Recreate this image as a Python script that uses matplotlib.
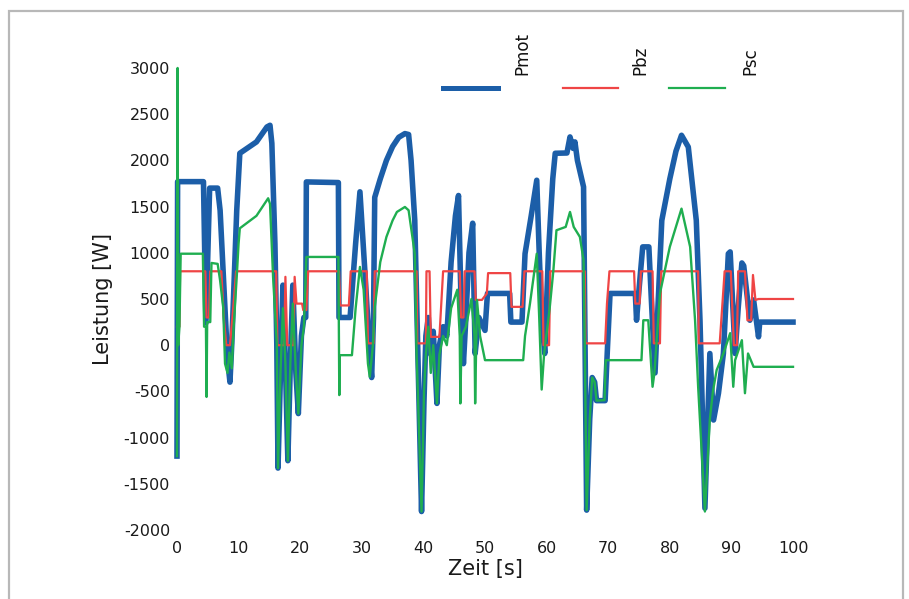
import matplotlib
matplotlib.use("Agg")
import matplotlib.pyplot as plt
from matplotlib.patches import Rectangle

# Pmot (Motorleistung)
zeit_mot = [0.0, 0.1, 4.3, 4.7, 5.3, 6.6, 7.0, 7.8, 8.2, 8.6, 8.9, 9.7, 10.2, 12.9, 14.6, 15.1,
            15.4, 15.9, 16.2, 16.4, 16.8, 17.2, 17.6, 18.0, 18.4, 18.8, 19.3, 19.7, 20.2, 20.6,
            20.9, 21.0, 26.2, 26.3, 28.1, 29.0, 29.7, 30.5, 31.3, 31.6, 31.9, 32.1, 33.0, 34.0,
            35.0, 36.0, 37.0, 37.6, 38.0, 38.6, 39.1, 39.7, 40.1, 40.4, 40.8, 41.2, 41.6, 42.2,
            42.6, 43.2, 43.8, 44.5, 45.2, 45.7, 46.1, 46.5, 46.9, 47.4, 48.0, 48.4, 49.0, 50.0,
            50.4, 54.0, 54.2, 56.0, 56.5, 57.5, 58.4, 58.8, 59.2, 59.7, 60.3, 61.0, 61.4, 63.3,
            63.8, 64.3, 64.6, 65.0, 66.0, 66.2, 66.5, 67.0, 67.4, 67.8, 68.1, 69.5, 69.9, 70.3,
            74.4, 74.6, 75.0, 75.6, 76.6, 77.0, 77.6, 78.0, 78.7, 80.0, 81.0, 81.9, 83.0, 84.3,
            84.9, 85.7, 86.5, 87.1, 87.9, 88.7, 89.5, 89.8, 90.6, 91.1, 91.7, 92.0, 93.0, 93.6,
            94.4, 94.6, 100.0]
p_mot = [-1200, 1770, 1770, 240, 1700, 1700, 1460, 380, -150, -400, 20, 1460, 2077, 2200, 2362, 2380,
         2185, 1100, 20, -1330, -300, 650, -200, -1250, -200, 650, -300, -740, 100, 300,
         300, 1767, 1760, 300, 300, 1100, 1660, 800, -100, -350, 300, 1600, 1800, 2000,
         2150, 2250, 2290, 2280, 2000, 1350, -90, -1800, -600, 100, 300, -100, 150, -630,
         0, 200, 100, 900, 1400, 1620, 500, -200, 300, 1000, 1320, -90, 300, 160,
         560, 560, 250, 250, 990, 1400, 1785, 1000, 300, -90, 1000, 1800, 2077, 2080,
         2254, 2130, 2200, 2000, 1713, 270, -1785, -800, -350, -400, -600, -600, 0, 560,
         560, 270, 600, 1064, 1064, 500, -300, 300, 1350, 1800, 2100, 2272, 2145, 1350,
         270, -1764, -90, -810, -520, -90, 990, 1010, -90, 400, 890, 860, 270, 490,
         90, 250, 250]

# Pbz (Brennstoffzelle)
zeit_bz = [0.0, 0.4, 0.5, 4.6, 4.8, 5.2, 5.4, 7.2, 7.6, 8.0, 8.6, 9.0, 9.6, 16.1, 16.3, 17.4,
           17.6, 17.9, 18.9, 19.1, 19.4, 20.3, 20.5, 21.0, 21.3, 26.3, 26.5, 27.9, 28.2, 30.8,
           31.0, 31.9, 32.1, 38.9, 39.0, 40.4, 40.5, 41.0, 41.2, 42.6, 43.2, 45.9, 46.1, 46.5,
           46.7, 48.3, 48.5, 49.5, 50.3, 50.5, 54.1, 54.3, 56.1, 56.4, 59.3, 59.5, 60.4, 60.6,
           66.2, 66.3, 69.5, 69.8, 70.2, 74.2, 74.4, 75.1, 75.3, 77.2, 77.4, 78.4, 78.6, 84.6,
           84.7, 88.1, 88.9, 89.9, 90.4, 90.9, 91.1, 92.2, 92.6, 93.2, 93.5, 93.9, 94.4, 100.0]
p_bz = [200, 200, 800, 800, 300, 300, 800, 800, 300, 0, 0, 300, 800, 800, 0, 0,
        740, 0, 0, 740, 450, 450, 380, 380, 800, 800, 430, 430, 800, 800,
        20, 20, 800, 800, 20, 20, 800, 800, 90, 90, 800, 800, 300, 300,
        800, 800, 490, 490, 560, 780, 780, 415, 415, 800, 800, 0, 0, 800,
        800, 20, 20, 450, 800, 800, 450, 450, 800, 800, 20, 20, 800, 800,
        20, 20, 800, 800, 0, 0, 800, 800, 270, 270, 760, 490, 500, 500]

# Psc (Superkondensator)
zeit_sc = [0.0, 0.1, 0.2, 0.4, 0.6, 4.2, 4.4, 4.7, 4.8, 4.9, 5.4, 5.6, 6.6, 7.0, 7.5, 7.8,
           8.2, 8.5, 8.9, 9.2, 9.7, 10.0, 10.2, 12.9, 14.8, 15.1, 15.6, 16.2, 16.4, 16.8,
           17.2, 17.6, 18.0, 18.4, 18.8, 19.3, 19.7, 20.2, 20.6, 21.0, 26.2, 26.3, 26.35,
           26.4, 28.4, 29.0, 29.7, 30.3, 31.0, 31.3, 31.8, 32.1, 33.0, 34.0, 35.0, 35.7,
           37.0, 37.6, 38.6, 38.9, 39.7, 40.1, 40.4, 40.8, 41.2, 41.6, 42.2, 42.6, 43.2,
           43.8, 44.5, 45.5, 45.9, 46.0, 46.2, 46.9, 47.8, 48.3, 48.4, 48.7, 49.2, 50.0,
           56.2, 56.5, 57.3, 58.4, 58.8, 59.2, 59.6, 60.5, 61.1, 61.6, 63.1, 63.8, 64.4,
           65.4, 66.0, 66.2, 66.5, 67.0, 67.4, 67.8, 68.1, 69.4, 69.6, 75.4, 75.7, 76.5,
           77.2, 77.5, 78.4, 80.0, 81.9, 83.3, 84.1, 84.6, 85.7, 86.5, 87.0, 87.6, 88.7,
           89.8, 90.3, 90.6, 91.7, 92.2, 92.7, 93.6, 100.0]
p_sc = [-1200, 3000, 0, 200, 990, 990, 200, 200, -560, 250, 250, 890, 880, 700, 410, -200,
        -300, -80, -250, 200, 740, 1100, 1265, 1400, 1590, 1530, 740, 20, -1330, -300,
        400, -200, -1250, -200, 450, -300, -740, 0, 200, 955, 955, -108, -540,
        -108, -108, 400, 847, 600, -200, -343, 0, 411, 900, 1172, 1350, 1442,
        1496, 1460, 990, -90, -1800, -500, -100, 200, -300, 0, -630, -100, 100,
        0, 400, 600, 100, -630, 100, 200, 500, 100, -630, 490, 100, -162,
        -162, 100, 450, 990, 300, -480, -90, 400, 810, 1244, 1280, 1442, 1280,
        1172, 920, 0, -1785, -800, -350, -400, -600, -595, -162, -162, 270, 270,
        -450, -300, 560, 1064, 1478, 1064, 270, -450, -1800, -800, -500, -270, -90,
        130, -450, -162, 54, -520, -90, -234, -234]

x_ticks = [0, 10, 20, 30, 40, 50, 60, 70, 80, 90, 100]
y_ticks = [-2000, -1500, -1000, -500, 0, 500, 1000, 1500, 2000, 2500, 3000]

blau = "#1c5ea8"
rot = "#ef4545"
gruen = "#1fae50"

plt.rcParams["axes.unicode_minus"] = False

fig = plt.figure(figsize=(9.09, 5.99), dpi=100)
ax = fig.add_axes([0.1947, 0.1152, 0.6777, 0.7713])

ax.plot(zeit_mot, p_mot, color=blau, lw=4, clip_on=False, zorder=2)
ax.plot(zeit_bz, p_bz, color=rot, lw=1.6, clip_on=False, zorder=3)
ax.plot(zeit_sc, p_sc, color=gruen, lw=1.7, clip_on=False, zorder=4)

ax.set_xlim(0, 100)
ax.set_ylim(-2000, 3000)
ax.set_xticks(x_ticks)
ax.set_yticks(y_ticks)
ax.tick_params(length=0, labelsize=11.5, colors="#1a1a1a")
ax.tick_params(axis="x", pad=8)
ax.tick_params(axis="y", pad=5)
for s in ax.spines.values():
    s.set_visible(False)

ax.set_xlabel("Zeit [s]", fontsize=15, color="#1a1a1a", labelpad=2)
ax.set_ylabel("Leistung [W]", fontsize=15, color="#1a1a1a", labelpad=8)

# Legende: Linien mit senkrecht gestellter Schrift
legende = [("Pmot", blau, 3.6, 0.432, 0.521, 0.560),
           ("Pbz", rot, 1.6, 0.626, 0.716, 0.752),
           ("Psc", gruen, 1.6, 0.799, 0.890, 0.930)]
for name, farbe, breite, x0, x1, xt in legende:
    ax.plot([x0, x1], [0.957, 0.957], color=farbe, lw=breite,
            transform=ax.transAxes, clip_on=False)
    ax.text(xt, 0.985, name, rotation=90, ha="center", va="bottom",
            fontsize=12, color="#111111", transform=ax.transAxes)

rahmen = Rectangle((0.0099, -0.02), 0.9835, 1.0016, transform=fig.transFigure,
                   fill=False, edgecolor="#b8b8b8", lw=1.6)
fig.add_artist(rahmen)

fig.savefig("out.png", dpi=100)
